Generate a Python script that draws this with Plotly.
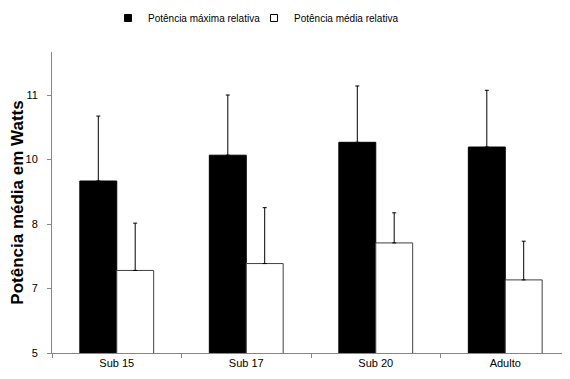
import plotly.graph_objects as go

categories = ["Sub 15", "Sub 17", "Sub 20", "Adulto"]
pot_max = [9.0, 9.6, 9.9, 9.79]
pot_max_err = [1.51, 1.40, 1.31, 1.32]
pot_med = [6.92, 7.08, 7.56, 6.70]
pot_med_err = [1.10, 1.30, 0.70, 0.90]

tick_vals = [5, 6.5, 8, 9.5, 11]
tick_text = ["5", "7", "8", "10", "11"]

FONT = "Liberation Sans Narrow, Arial Narrow, Liberation Sans, Arial, sans-serif"
W, H = 570, 379

fig = go.Figure()
fig.add_trace(go.Bar(
    x=categories, y=pot_max, name="Potência máxima relativa",
    marker=dict(color="#000000", line=dict(color="#000000", width=1)),
    error_y=dict(type="data", array=pot_max_err, symmetric=False,
                 arrayminus=[0] * len(pot_max_err), color="#000000",
                 thickness=1, width=2),
    showlegend=False,
))
fig.add_trace(go.Bar(
    x=categories, y=pot_med, name="Potência média relativa",
    marker=dict(color="#ffffff", line=dict(color="#404040", width=1)),
    error_y=dict(type="data", array=pot_med_err, symmetric=False,
                 arrayminus=[0] * len(pot_med_err), color="#000000",
                 thickness=1, width=2),
    showlegend=False,
))
# legend entries (one legend each so they can be placed like the original)
fig.add_trace(go.Scatter(
    x=[None], y=[None], mode="markers", name="Potência máxima relativa",
    marker=dict(symbol="square", size=7, color="#000000",
                line=dict(color="#000000", width=1)),
    legend="legend",
))
fig.add_trace(go.Scatter(
    x=[None], y=[None], mode="markers", name="Potência média relativa",
    marker=dict(symbol="square", size=7, color="#ffffff",
                line=dict(color="#000000", width=1)),
    legend="legend2",
))

legend_common = dict(
    orientation="h", xref="container", yref="container",
    xanchor="left", yanchor="middle", y=1 - 10 / H,
    font=dict(family=FONT, size=10, color="#000000"),
    itemwidth=30, bgcolor="rgba(0,0,0,0)",
)

# page body has an 8px default margin: compensate in the figure margins
fig.update_layout(
    width=W, height=H,
    margin=dict(l=44, r=8, t=44, b=34),
    paper_bgcolor="#ffffff", plot_bgcolor="#ffffff",
    barmode="group", bargap=0.43, bargroupgap=0,
    font=dict(family=FONT, size=11, color="#000000"),
    showlegend=True,
    legend=dict(x=100 / W, **legend_common),
    legend2=dict(x=246 / W, **legend_common),
    xaxis=dict(
        type="category", showline=True, linecolor="#868686", linewidth=1,
        ticks="outside", ticklen=4, tickcolor="#868686", tickson="boundaries",
        showgrid=False, zeroline=False, automargin=False,
        tickfont=dict(family=FONT, size=11, color="#000000"),
    ),
    yaxis=dict(
        range=[5, 12], tickvals=tick_vals, ticktext=tick_text,
        showline=True, linecolor="#868686", linewidth=1,
        ticks="outside", ticklen=4, tickcolor="#868686",
        showgrid=False, zeroline=False, automargin=False,
        ticklabelstandoff=7,
        tickfont=dict(family=FONT, size=11, color="#000000"),
        title=dict(text="<b>Potência média em Watts</b>", standoff=0,
                   font=dict(family="Liberation Sans, Arial, sans-serif", size=17, color="#000000")),
    ),
)

fig.write_html("out.html")
